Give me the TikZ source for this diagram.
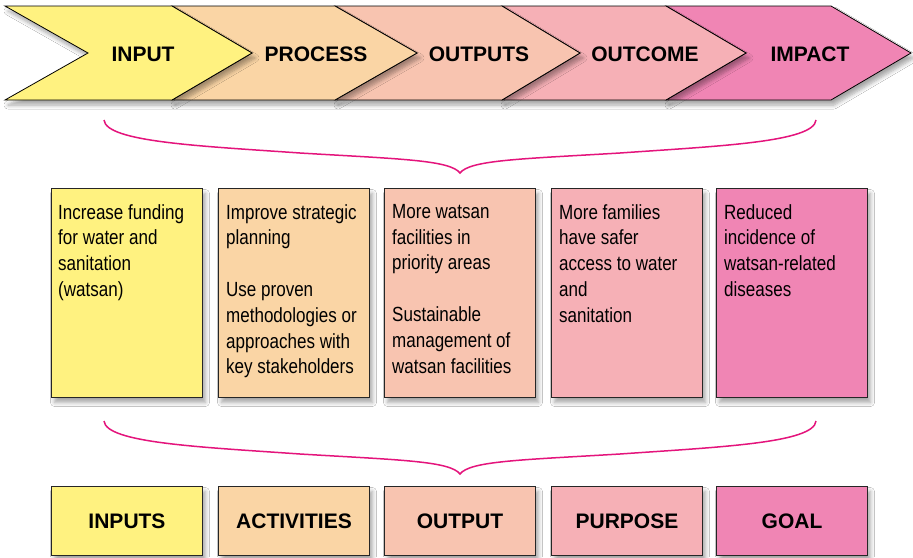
\documentclass[tikz,border=0pt]{standalone}
\usepackage{fontspec}
\setmainfont{Liberation Sans}
\newfontfamily\narrowfont{Liberation Sans}[FakeStretch=0.83]
\usetikzlibrary{shadows.blur,calc}
\definecolor{c1}{RGB}{255,242,128}
\definecolor{c2}{RGB}{250,213,165}
\definecolor{c3}{RGB}{248,196,176}
\definecolor{c4}{RGB}{246,176,182}
\definecolor{c5}{RGB}{240,133,180}
\definecolor{bracecol}{RGB}{228,20,124}
\begin{document}
\begin{tikzpicture}[x=1pt,y=-1pt,
  shad/.style={blur shadow={shadow xshift=3pt, shadow yshift=-5pt, shadow opacity=35, shadow blur steps=6, shadow blur radius=4pt}},
  chev/.style={draw=black, line width=0.8pt, line join=miter, shad},
  head/.style={font=\fontsize{21}{25}\selectfont\bfseries, inner sep=0pt},
  midbox/.style={draw=black!85, line width=1pt, minimum width=151pt, minimum height=209pt, inner sep=0pt, anchor=north west, shad},
  txt/.style={font=\narrowfont\fontsize{20.5}{25.8}\selectfont, align=left, inner sep=0pt, anchor=north west},
  lowbox/.style={draw=black!85, line width=1pt, minimum width=151pt, minimum height=69pt, inner sep=0pt, anchor=north west, shad, font=\fontsize{21}{25}\selectfont\bfseries},
  bracestyle/.style={draw=bracecol, line width=1.5pt}
]
\useasboundingbox (0,0) rectangle (913,557);
\fill[white] (0,0) rectangle (913,557);
% chevrons (right to left so left ones overlap)
\path[chev, fill=c5] (666,6) -- (831,6) -- (911,53) -- (831,100) -- (666,100) -- (746,53) -- cycle;
\path[chev, fill=c4] (502,6) -- (666,6) -- (746,53) -- (666,100) -- (502,100) -- (580,53) -- cycle;
\path[chev, fill=c3] (335,6) -- (502,6) -- (580,53) -- (502,100) -- (335,100) -- (417,53) -- cycle;
\path[chev, fill=c2] (172,6) -- (335,6) -- (417,53) -- (335,100) -- (172,100) -- (252,53) -- cycle;
\path[chev, fill=c1] (5,6) -- (172,6) -- (252,53) -- (172,100) -- (5,100) -- (88,53) -- cycle;
\node[head] (h1) at (143,54) {INPUT};
\node[head] (h2) at (316,54) {PROCESS};
\node[head] (h3) at (479,54) {OUTPUTS};
\node[head] (h4) at (645,54) {OUTCOME};
\node[head] (h5) at (810,54) {IMPACT};
% upper brace
\coordinate (ul) at (104,120);
\coordinate (um) at (460,173);
\coordinate (ur) at (816,120);
\draw[bracestyle] (ul) .. controls (106,142) and (200,146) .. (300,153) .. controls (400,159) and (450,160) .. (um)
  .. controls (470,160) and (520,159) .. (620,153) .. controls (720,146) and (814,142) .. (ur);
% middle boxes
\node[midbox, fill=c1] (m1) at (51,188) {};
\node[midbox, fill=c2] (m2) at (218,188) {};
\node[midbox, fill=c3] (m3) at (384,188) {};
\node[midbox, fill=c4] (m4) at (551,188) {};
\node[midbox, fill=c5] (m5) at (716,188) {};
\node[txt] (t1) at ($(m1.north west)+(7,16)$) {Increase funding\\for water and\\sanitation\\(watsan)};
\node[txt] (t2) at ($(m2.north west)+(8,16)$) {Improve strategic\\planning\\\mbox{}\\Use proven\\methodologies or\\approaches with\\key stakeholders};
\node[txt] (t3) at ($(m3.north west)+(8,16)$) {More watsan\\facilities in\\priority areas\\\mbox{}\\Sustainable\\management of\\watsan facilities};
\node[txt] (t4) at ($(m4.north west)+(8,16)$) {More families\\have safer\\access to water\\and\\sanitation};
\node[txt] (t5) at ($(m5.north west)+(8,16)$) {Reduced\\incidence of\\watsan-related\\diseases};
% lower brace
\coordinate (ll) at (104,421);
\coordinate (lm) at (460,474);
\coordinate (lr) at (816,421);
\draw[bracestyle] (ll) .. controls (106,443) and (200,447) .. (300,454) .. controls (400,460) and (450,461) .. (lm)
  .. controls (470,461) and (520,460) .. (620,454) .. controls (720,447) and (814,443) .. (lr);
% lower boxes
\node[lowbox, fill=c1] (b1) at (51,486) {INPUTS};
\node[lowbox, fill=c2] (b2) at (218,486) {ACTIVITIES};
\node[lowbox, fill=c3] (b3) at (384,486) {OUTPUT};
\node[lowbox, fill=c4] (b4) at (551,486) {PURPOSE};
\node[lowbox, fill=c5] (b5) at (716,486) {GOAL};
\end{tikzpicture}
\end{document}
